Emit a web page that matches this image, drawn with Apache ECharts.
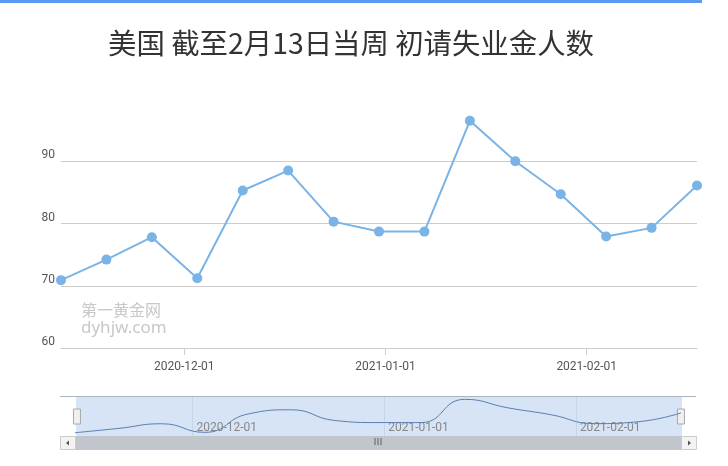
<!DOCTYPE html>
<html><head><meta charset="utf-8">
<script src="https://cdn.jsdelivr.net/npm/echarts@6/dist/echarts.min.js"></script>
<style>html,body{margin:0;padding:0;background:#fff}#c{width:728px;height:466px}</style>
</head><body><div id="c"></div>
<script>
const titleText = '美国 截至2月13日当周 初请失业金人数';
const weekDates = ['2020-11-12','2020-11-19','2020-11-26','2020-12-03','2020-12-10','2020-12-17','2020-12-24','2020-12-31','2021-01-07','2021-01-14','2021-01-21','2021-01-28','2021-02-04','2021-02-11','2021-02-18'];
const claims = [70.9, 74.2, 77.8, 71.2, 85.3, 88.5, 80.3, 78.7, 78.7, 96.5, 90.0, 84.7, 77.9, 79.3, 86.1];
const monthTicks = ['2020-12-01','2021-01-01','2021-02-01'];
const yMin = 60, yMax = 100, yStep = 10;
const watermark = ['第一黄金网', 'dyhjw.com'];

function ts(s){const p=s.split('-');return Date.UTC(+p[0],+p[1]-1,+p[2]);}
function fmt(v){const d=new Date(v);const m=d.getUTCMonth()+1, dd=d.getUTCDate();return d.getUTCFullYear()+'-'+(m<10?'0':'')+m+'-'+(dd<10?'0':'')+dd;}
const pts = weekDates.map((d,i)=>[ts(d), claims[i]]);
const tickVals = monthTicks.map(ts);
const xMin = ts(weekDates[0]), xMax = ts(weekDates[weekDates.length-1]);

const chart = echarts.init(document.getElementById('c'), null, {renderer:'canvas'});
const option = {
  animation:false,
  textStyle:{fontFamily:'Roboto, "Noto Sans CJK SC", sans-serif'},
  title:{text:titleText,left:351,top:29,textAlign:'center',padding:0,
    textStyle:{fontFamily:'"Noto Sans CJK SC"',fontSize:28.4,fontWeight:'normal',color:'#333',lineHeight:28}},
  grid:[{left:61,right:31,top:99,bottom:118},{left:75,right:47,top:397,height:39}],
  xAxis:[
    {type:'value',gridIndex:0,min:xMin,max:xMax,
     axisLine:{show:true,lineStyle:{color:'#ccc'}},
     axisTick:{show:true,length:7,customValues:tickVals,lineStyle:{color:'#ccc'}},
     axisLabel:{customValues:tickVals,formatter:fmt,color:'#555',fontSize:12,margin:13},
     splitLine:{show:false}},
    {type:'value',gridIndex:1,min:xMin,max:xMax,z:5,
     axisLine:{show:false},axisTick:{show:false,customValues:tickVals},
     axisLabel:{customValues:tickVals,formatter:fmt,inside:true,align:'left',padding:[0,0,0,4],margin:2,color:'#888',fontSize:12},
     splitLine:{show:true,lineStyle:{color:'#c6d5e8'}}}
  ],
  yAxis:[
    {type:'value',gridIndex:0,min:yMin,max:yMax,interval:yStep,
     axisLine:{show:false},axisTick:{show:false},
     axisLabel:{showMaxLabel:false,color:'#555',fontSize:12,margin:6,verticalAlign:'bottom',lineHeight:12},
     splitLine:{show:true,showMaxLine:false,lineStyle:{color:'#ccc'}}},
    {type:'value',gridIndex:1,min:68.4,max:98.3,show:false}
  ],
  dataZoom:[{type:'slider',xAxisIndex:0,start:0,end:100,left:75,right:47,top:397,height:39,z:1,
    backgroundColor:'#d6e4f5',borderColor:'transparent',fillerColor:'#d6e4f5',
    showDataShadow:false,showDetail:false,brushSelect:false,
    dataBackground:{lineStyle:{opacity:0},areaStyle:{opacity:0}},
    handleIcon:'path://M0,0H7V15H0Z',handleSize:15,
    handleStyle:{color:'#f0f0f0',borderColor:'#aaa',borderWidth:1},
    emphasis:{handleStyle:{color:'#f0f0f0',borderColor:'#aaa'}}
  }],
  series:[
    {type:'line',xAxisIndex:0,yAxisIndex:0,data:pts,symbol:'circle',symbolSize:10,
     lineStyle:{color:'#7ab3e6',width:2},itemStyle:{color:'#7ab3e6'}},
    {type:'line',xAxisIndex:1,yAxisIndex:1,data:pts,smooth:true,symbol:'none',z:5,silent:true,
     lineStyle:{color:'#5b7fb1',width:1}}
  ],
  graphic:[
    {type:'rect',shape:{x:0,y:0,width:702,height:3},style:{fill:'#5a9bf2'}},
    {type:'line',z:20,shape:{x1:60,y1:396.5,x2:696,y2:396.5},style:{stroke:'#aab4c3',lineWidth:1}},
    {type:'rect',z:20,shape:{x:75.5,y:436,width:605.5,height:14},style:{fill:'#c1c5cc'}},
    {type:'text',z:21,x:378,y:443,style:{text:'III',fill:'#7d828b',font:'bold 8px "DejaVu Sans"',align:'center',verticalAlign:'middle'}},
    {type:'rect',z:20,shape:{x:60.5,y:436.5,width:15,height:13},style:{fill:'#f3f3f3',stroke:'#ccc'}},
    {type:'polygon',z:21,shape:{points:[[66,443],[69,440.5],[69,445.5]]},style:{fill:'#555'}},
    {type:'rect',z:20,shape:{x:681.5,y:436.5,width:15,height:13},style:{fill:'#f3f3f3',stroke:'#ccc'}},
    {type:'polygon',z:21,shape:{points:[[691,443],[688,440.5],[688,445.5]]},style:{fill:'#555'}},
    {type:'text',z:20,left:81,top:302,style:{text:watermark[0],fill:'#c8c8c8',font:'16px "Noto Sans CJK SC"'}},
    {type:'text',z:20,left:81,top:320,style:{text:watermark[1],fill:'#c8c8c8',font:'17px "Noto Sans", sans-serif'}}
  ]
};
chart.setOption(option);
</script>
</body></html>
